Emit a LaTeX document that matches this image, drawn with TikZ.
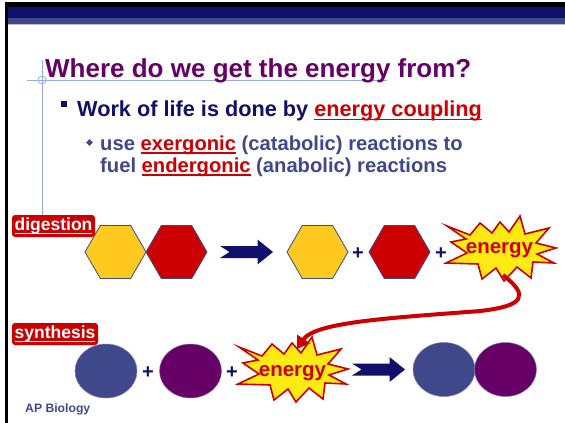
\documentclass[tikz,border=0pt]{standalone}
\usepackage{fontspec}
\setmainfont{Liberation Sans}
\usetikzlibrary{shapes.geometric,arrows.meta,calc}
\definecolor{navy}{RGB}{16,16,107}
\definecolor{slate}{RGB}{64,72,140}
\definecolor{ttlpurple}{RGB}{102,0,102}
\definecolor{myred}{RGB}{204,0,0}
\definecolor{hexyellow}{RGB}{255,201,31}
\definecolor{burstyellow}{RGB}{255,234,20}
\definecolor{guideblue}{RGB}{150,170,235}
\newcommand{\ulx}[1]{\setbox0=\hbox{#1}\rlap{\rule[-0.2em]{\wd0}{0.08em}}\box0}
\begin{document}
\begin{tikzpicture}[x=1pt,y=-1pt,
  hexnode/.style={regular polygon, regular polygon sides=6, minimum size=61pt, inner sep=0pt, draw=slate, line width=0.8pt},
  ovalnode/.style={ellipse, minimum width=62pt, minimum height=54pt, inner sep=0pt, draw=slate!70, line width=0.5pt},
  plusnode/.style={font=\fontsize{20}{20}\selectfont\bfseries, text=navy, inner sep=0pt},
  tag/.style={fill=myred, rounded corners=3pt, text=white, font=\fontsize{17.5}{17}\selectfont\bfseries, minimum height=22pt, inner sep=0pt},
  bursttext/.style={text=myred, font=\fontsize{20.5}{20}\selectfont\bfseries, inner sep=0pt, anchor=base},
  chev/.pic={\fill[navy] (-26.5,-6) -- (11,-6) -- (11,-12.5) -- (26.5,0) -- (11,12.5) -- (11,6) -- (-26.5,6) -- (-17,0) -- cycle;},
  burst/.pic={\filldraw[fill=burstyellow, draw=myred, line width=1.6pt, line join=miter]
     (-53,-24) -- (-30,-15) -- (-20,-27) -- (-8,-17) -- (0,-28) -- (9,-18) -- (20,-34) -- (25,-16)
     -- (49,-22) -- (36,-7) -- (56,-2) -- (37,4) -- (54,13) -- (33,12) -- (31,28) -- (17,17)
     -- (4,31) -- (-4,18) -- (-18,29) -- (-22,14) -- (-54,13) -- (-33,3) -- (-49,-8) -- (-34,-11) -- cycle;}
]
\useasboundingbox (0,0) rectangle (565,423);
\fill[white] (0,0) rectangle (565,423);
% frame and header bands
\fill[black] (5,2) rectangle (565,7);
\fill[black] (5,2) rectangle (7.5,423);
\fill[navy] (7.5,7) rectangle (565,18);
\fill[slate] (7.5,18) rectangle (565,24);
\fill[slate!35] (7.5,24) rectangle (565,25);
% guide lines
\draw[guideblue, line width=0.8pt] (27,80) -- (387,80);
\draw[guideblue, line width=0.8pt] (42,60) -- (42,215);
\draw[guideblue, line width=0.8pt] (42,80) circle (4);
% title and bullets
\node[anchor=base west, inner sep=0pt, text=ttlpurple, font=\fontsize{26}{31}\selectfont\bfseries] (title) at (45,77) {Where do we get the energy from?};
\node[fill=navy, minimum size=6pt, inner sep=0pt] (sq) at (63.5,103.5) {};
\node[anchor=base west, inner sep=0pt, text=navy, font=\fontsize{21.7}{26}\selectfont\bfseries] (b1) at (77,116) {Work of life is done by \textcolor{myred}{\ulx{energy coupling}}};
\node[diamond, fill=slate, minimum size=7pt, inner sep=0pt] (dm) at (89.5,142.5) {};
\node[anchor=base west, inner sep=0pt, text=slate, font=\fontsize{20.2}{24}\selectfont\bfseries] (s1) at (100,150) {use \textcolor{myred}{\ulx{exergonic}} (catabolic) reactions to};
\node[anchor=base west, inner sep=0pt, text=slate, font=\fontsize{20.2}{24}\selectfont\bfseries] (s2) at (100,172) {fuel \textcolor{myred}{\ulx{endergonic}} (anabolic) reactions};
% digestion row
\node[tag, minimum width=83pt] (dig) at (53.5,226) {\ulx{digestion}};
\node[hexnode, fill=hexyellow] (h1) at (115.5,252) {};
\node[hexnode, fill=myred] (h2) at (176.5,252) {};
\pic at (246.5,252) {chev};
\node[hexnode, fill=hexyellow] (h3) at (317.5,252) {};
\node[plusnode] (p1) at (358,254) {+};
\node[hexnode, fill=myred] (h4) at (399.5,252) {};
\node[plusnode] (p2) at (441,254) {+};
\coordinate (bu1) at (500,250);
\pic at (bu1) {burst};
% synthesis row
\node[tag, minimum width=86pt] (syn) at (55,334) {\ulx{synthesis}};
\node[ovalnode, fill=slate] (o1) at (106,371) {};
\node[plusnode] (p3) at (148,373) {+};
\node[ovalnode, fill=ttlpurple] (o2) at (190.5,371) {};
\node[plusnode] (p4) at (232,373) {+};
\coordinate (bu2) at (292,371);
\pic at (bu2) {burst};
\pic at (378.5,369.5) {chev};
\node[ovalnode, fill=slate] (o3) at (444,369.5) {};
\node[ovalnode, fill=ttlpurple] (o4) at (505.5,369.5) {};
% coupling arrow
\draw[myred, line width=4pt, -{Triangle[length=12pt,width=15pt]}]
  ($(bu1)+(3,25)$) .. controls (530,296) and (524,306) .. (480,311)
  .. controls (390,318) and (315,322) .. ($(bu2)+(5,-22)$);
% energy labels
\node[bursttext] (en1) at (499.5,253.5) {energy};
\node[bursttext] (en2) at (292.5,376) {energy};
% footer
\node[anchor=base west, inner sep=0pt, text=slate, font=\fontsize{12.2}{14}\selectfont\bfseries] (ap) at (25,412) {AP Biology};
\end{tikzpicture}
\end{document}
